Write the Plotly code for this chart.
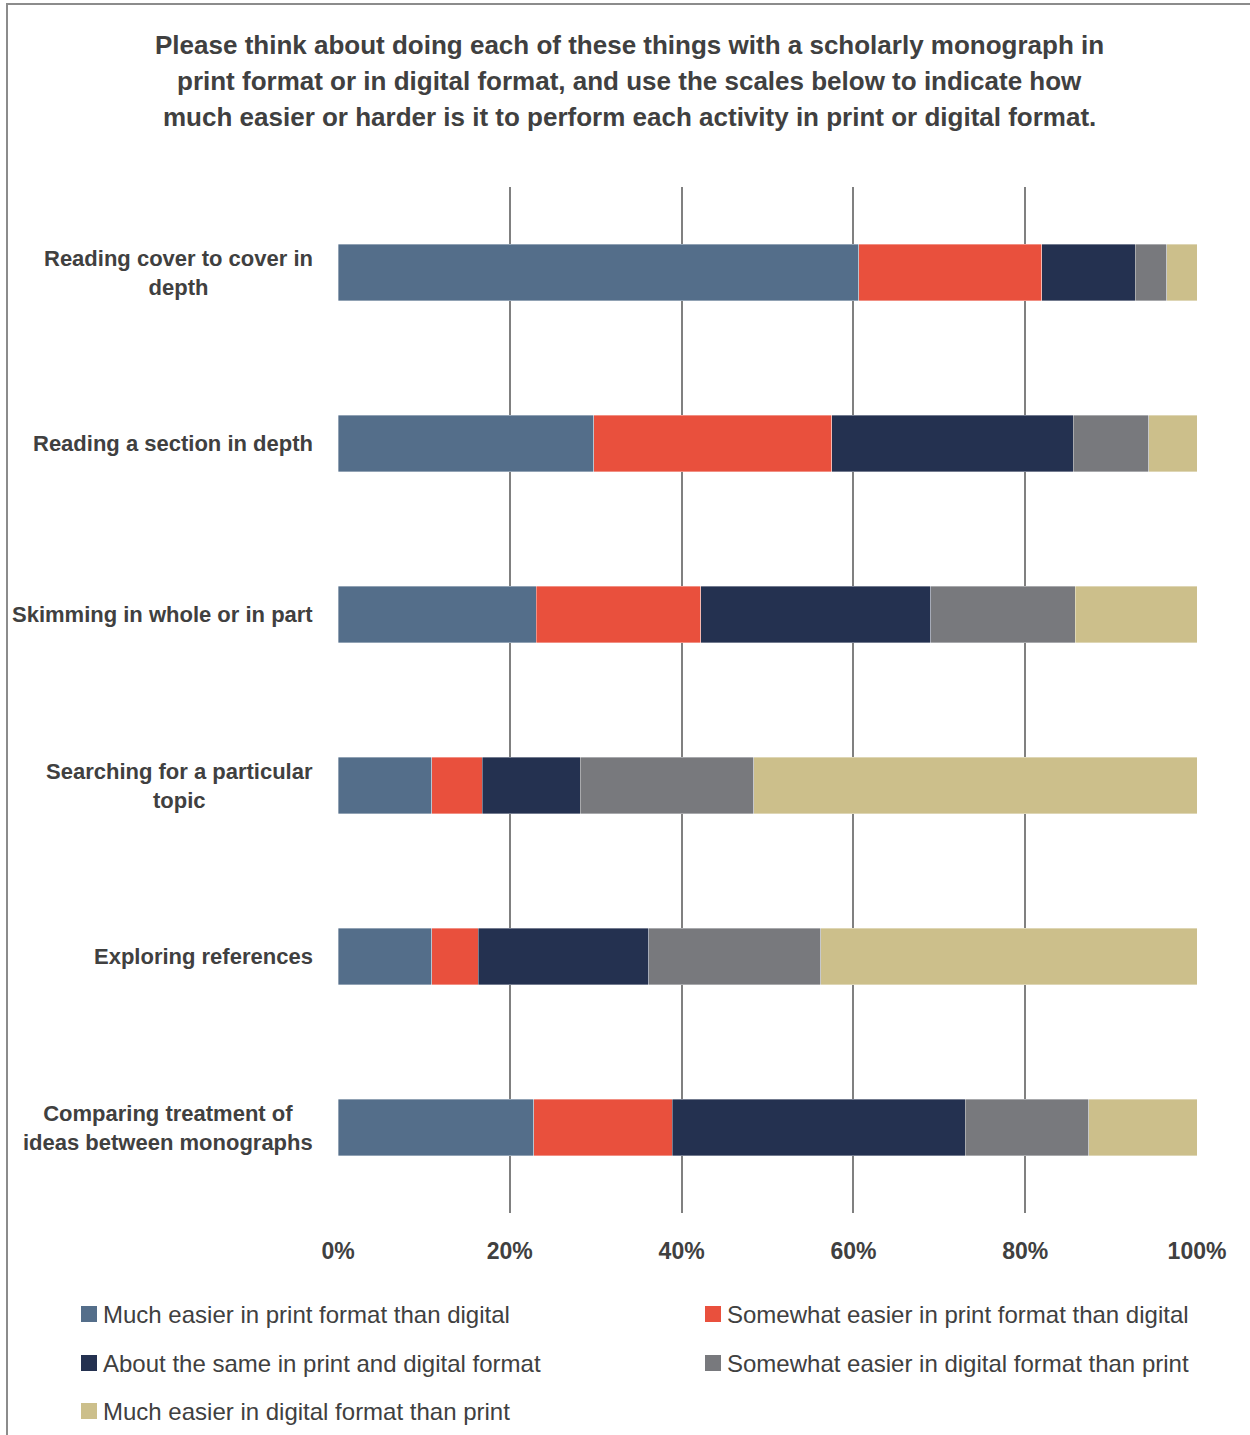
import plotly.graph_objects as go

# Survey activities (top to bottom)
activities = [
    "Reading cover to cover in<br>depth",
    "Reading a section in depth",
    "Skimming in whole or in part",
    "Searching for a particular<br>topic",
    "Exploring references",
    "Comparing treatment of<br>ideas between monographs",
]

# Response categories
responses = [
    "Much easier in print format than digital",
    "Somewhat easier in print format than digital",
    "About the same in print and digital format",
    "Somewhat easier in digital format than print",
    "Much easier in digital format than print",
]

# Share of respondents (%) per activity, one list per response
much_easier_print = [60.6, 29.8, 23.1, 10.9, 10.9, 22.8]
somewhat_easier_print = [21.3, 27.7, 19.1, 5.9, 5.4, 16.1]
about_same = [10.9, 28.1, 26.8, 11.4, 19.9, 34.1]
somewhat_easier_digital = [3.7, 8.8, 16.8, 20.2, 20.0, 14.4]
much_easier_digital = [3.5, 5.6, 14.2, 51.6, 43.8, 12.6]

x_ticks = [0, 20, 40, 60, 80, 100]
x_tick_labels = ["0%", "20%", "40%", "60%", "80%", "100%"]

title_lines = [
    "Please think about doing each of these things with a scholarly monograph in",
    "print format or in digital format, and use the scales below to indicate how",
    "much easier or harder is it to perform each activity in print or digital format.",
]

colors = ["#546E8A", "#E9503D", "#243150", "#78797D", "#CCBF8B"]
series = [much_easier_print, somewhat_easier_print, about_same,
          somewhat_easier_digital, much_easier_digital]

FONT = "Liberation Sans, Arial, sans-serif"
TEXT = "#404040"

W, H = 1250, 1435
L, R, T, B = 338, 1197, 187, 1213


def px_x(px):
    return (px - L) / (R - L)


def px_y(py):
    return (B - py) / (B - T)


fig = go.Figure()
for name, vals, col in zip(responses, series, colors):
    fig.add_trace(go.Bar(
        y=activities, x=vals, name=name, orientation="h",
        marker=dict(color=col, line=dict(color="rgba(255,255,255,0.6)", width=0.6)),
        showlegend=False,
    ))

annotations = []
# Category labels, right-aligned block with lines centred within it
for act in activities:
    annotations.append(dict(
        x=px_x(315), xref="paper", y=act, yref="y",
        text=act, showarrow=False, xanchor="right", yanchor="middle", align="center",
        font=dict(family=FONT, size=22, color=TEXT, weight="bold"),
    ))

# Title, one line at a time
for line, ly in zip(title_lines, [45, 81, 117]):
    annotations.append(dict(
        x=px_x(629), xref="paper", y=px_y(ly), yref="paper",
        text=line, showarrow=False, xanchor="center", yanchor="middle",
        font=dict(family=FONT, size=26, color=TEXT, weight="bold"),
    ))

# Legend: two columns, row-major order
shapes = []
legend_pos = [(81, 1314), (705, 1314), (81, 1363), (705, 1363), (81, 1411)]
for name, col, (lx, ly) in zip(responses, colors, legend_pos):
    shapes.append(dict(
        type="rect", xref="paper", yref="paper",
        x0=px_x(lx), x1=px_x(lx + 16), y0=px_y(ly + 8), y1=px_y(ly - 8),
        fillcolor=col, line=dict(width=0),
    ))
    annotations.append(dict(
        x=px_x(lx + 20), xref="paper", y=px_y(ly), yref="paper",
        text=name, showarrow=False, xanchor="left", yanchor="middle",
        font=dict(family=FONT, size=24, color=TEXT),
    ))

# Outer frame
shapes.append(dict(
    type="rect", xref="paper", yref="paper",
    x0=px_x(7), x1=px_x(1265), y0=px_y(1450), y1=px_y(4),
    line=dict(color="#8C8C8C", width=2), fillcolor="rgba(0,0,0,0)", layer="below",
))

fig.update_layout(
    width=W, height=H,
    margin=dict(l=L, r=W - R, t=T, b=H - B),
    barmode="stack", bargap=0.667,
    plot_bgcolor="white", paper_bgcolor="white",
    xaxis=dict(
        range=[0, 100], tickvals=x_ticks, ticktext=x_tick_labels,
        showgrid=True, gridcolor="#808080", gridwidth=1.5,
        zeroline=False, showline=False,
        tickfont=dict(family=FONT, size=23, color=TEXT, weight="bold"),
        ticks="", ticklabelstandoff=22,
    ),
    yaxis=dict(
        autorange="reversed", showticklabels=False, showgrid=False,
        zeroline=False, showline=False,
    ),
    annotations=annotations, shapes=shapes,
)

fig.write_html("out.html")
